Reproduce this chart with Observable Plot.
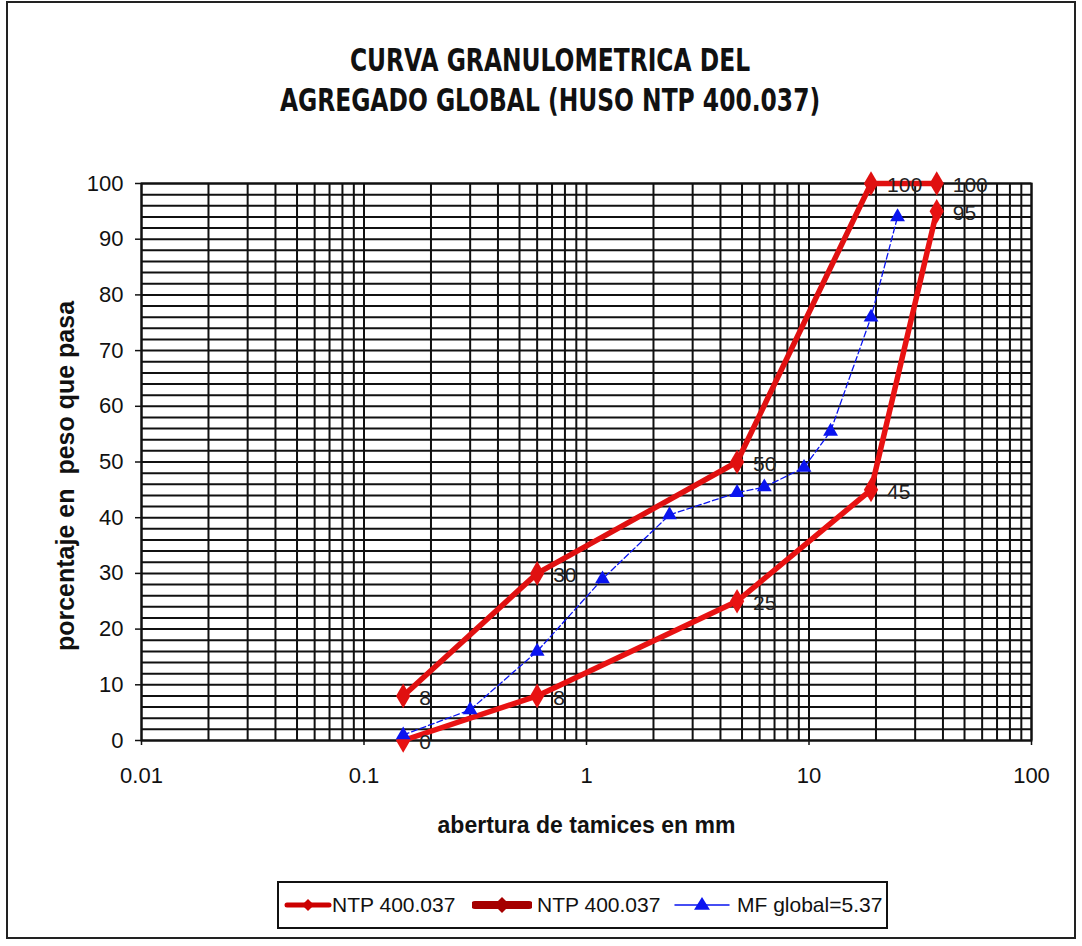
<!DOCTYPE html>
<html><head><meta charset="utf-8">
<script src="https://cdn.jsdelivr.net/npm/d3@7"></script>
<script src="https://cdn.jsdelivr.net/npm/@observablehq/plot@0.6"></script>
<style>
body{margin:0;background:#fff;}
#wrap{position:relative;width:1082px;height:946px;overflow:hidden;background:#fff;font-family:"Liberation Sans",Arial,sans-serif;}
#border{position:absolute;left:6px;top:1px;width:1070px;height:938px;border:2px solid #222;box-sizing:border-box;}
#title{position:absolute;left:0;top:40px;width:1100px;text-align:center;font-family:"Liberation Sans Narrow","DejaVu Sans Condensed",sans-serif;font-weight:bold;font-size:26px;line-height:40px;color:#111;}
#title div{transform:scale(1,1.25);}
#chart{position:absolute;left:0;top:130px;}
#legend{position:absolute;left:277px;top:881px;width:611px;height:48px;border:2px solid #111;box-sizing:border-box;font-size:21px;color:#111;}
#legend .sw{position:absolute;top:10px;}
#legend .tx{position:absolute;top:10px;line-height:24px;white-space:nowrap;}
#legend svg{display:block;}
</style>
</head><body>
<div id="wrap">
  <div id="border"></div>
  <div id="title"><div>CURVA GRANULOMETRICA DEL</div><div>AGREGADO GLOBAL (HUSO NTP 400.037)</div></div>
  <div id="chart"></div>
  <div id="legend"></div>
</div>
<script>
// ---- data ----
const sieveSizes = [0.15, 0.6, 4.75, 19, 37.5];           // mm
const lowerLimit = [0, 8, 25, 45, 95];                     // NTP 400.037 (lower)
const upperLimit = [8, 30, 50, 100, 100];                  // NTP 400.037 (upper)
const mfSizes   = [0.15, 0.3, 0.6, 1.18, 2.36, 4.75, 6.3, 9.5, 12.5, 19, 25];
const mfPassing = [1, 5.5, 16, 29, 40.5, 44.5, 45.5, 49, 55.5, 76, 94];
const seriesNames = ["NTP 400.037", "NTP 400.037", "MF global=5.37"];
const xTicks = [0.01, 0.1, 1, 10, 100];
const xTickLabels = ["0.01", "0.1", "1", "10", "100"];
const yTicks = [0, 10, 20, 30, 40, 50, 60, 70, 80, 90, 100];
const xGrid = [0.01,0.02,0.03,0.04,0.05,0.06,0.07,0.08,0.09,
               0.1,0.2,0.3,0.4,0.5,0.6,0.7,0.8,0.9,
               1,2,3,4,5,6,7,8,9,
               10,20,30,40,50,60,70,80,90,100];
const yGrid = [0,2,4,6,8,10,12,14,16,18,20,22,24,26,28,30,32,34,36,38,40,42,44,46,48,50,
               52,54,56,58,60,62,64,66,68,70,72,74,76,78,80,82,84,86,88,90,92,94,96,98,100];
const xTitle = "abertura de tamices en mm";
const yTitle = "porcentaje en  peso que pasa";

// ---- tables ----
const lower = sieveSizes.map((s, i) => ({x: s, y: lowerLimit[i]}));
const upper = sieveSizes.map((s, i) => ({x: s, y: upperLimit[i]}));
const mf = mfSizes.map((s, i) => ({x: s, y: mfPassing[i]}));

const red1 = "#e81212", red2 = "#e01010", blue = "#0a14f0";

const chart = Plot.plot({
  width: 1082, height: 730,
  marginLeft: 141, marginRight: 51, marginTop: 53, marginBottom: 120,
  style: {fontFamily: '"Liberation Sans", Arial, sans-serif', fontSize: "22px", color: "#111", background: "transparent"},
  x: {type: "log", domain: [0.01, 100]},
  y: {domain: [0, 100]},
  marks: [
    Plot.gridX(xGrid, {stroke: "#111", strokeOpacity: 1, strokeWidth: 2}),
    Plot.gridY(yGrid, {stroke: "#111", strokeOpacity: 1, strokeWidth: 2}),
    Plot.frame({stroke: "#111", strokeWidth: 2}),
    Plot.axisX(xTicks, {tickSize: 5, tickPadding: 22, tickFormat: d => xTickLabels[xTicks.indexOf(d)], label: null, strokeWidth: 1.5}),
    Plot.axisY(yTicks, {tickSize: 6, tickPadding: 12, label: null, strokeWidth: 1.5}),
    Plot.line(mf, {x: "x", y: "y", stroke: blue, strokeWidth: 1.3, strokeDasharray: "6,3"}),
    Plot.line(lower, {x: "x", y: "y", stroke: red1, strokeWidth: 5.5, strokeLinejoin: "round"}),
    Plot.line(upper, {x: "x", y: "y", stroke: red2, strokeWidth: 5.5, strokeLinejoin: "round"}),
    Plot.dot(lower, {x: "x", y: "y", symbol: "diamond", r: 7.5, fill: red1}),
    Plot.dot(upper, {x: "x", y: "y", symbol: "diamond", r: 7.5, fill: red2}),
    Plot.dot(mf, {x: "x", y: "y", symbol: "triangle", r: 5.5, fill: blue}),
    Plot.text(lower, {x: "x", y: "y", text: d => String(d.y), dx: 16, dy: 2, textAnchor: "start", fill: "#222", fontSize: 21}),
    Plot.text(upper, {x: "x", y: "y", text: d => String(d.y), dx: 16, dy: 2, textAnchor: "start", fill: "#222", fontSize: 21}),
    Plot.text([xTitle], {frameAnchor: "bottom", dy: 92, text: d => d, fontWeight: "bold", fontSize: 23, fill: "#111"}),
    Plot.text([yTitle], {frameAnchor: "left", textAnchor: "middle", dx: -76, dy: 14, rotate: -90, text: d => d, fontWeight: "bold", fontSize: 25, fill: "#111"})
  ]
});
document.getElementById("chart").appendChild(chart);

// ---- legend ----
const legend = document.getElementById("legend");
const legendStyles = [
  {color: "#cc0000", width: 5, marker: "diamond", size: 6, sw: 5, tx: 53, w: 48},
  {color: "#a50000", width: 8, marker: "diamond", size: 8, sw: 193, tx: 258, w: 60},
  {color: "#0a14f0", width: 1.5, marker: "triangle", size: 8, sw: 393, tx: 458, w: 60}
];
seriesNames.forEach((name, i) => {
  const st = legendStyles[i];
  const w = st.w;
  const s = st.size;
  const marker = st.marker === "diamond"
    ? `<path d="M${w/2},${12-s} L${w/2+s},12 L${w/2},${12+s} L${w/2-s},12 Z" fill="${st.color}"/>`
    : `<path d="M${w/2},${12-s} L${w/2+s},${12+s*0.6} L${w/2-s},${12+s*0.6} Z" fill="${st.color}"/>`;
  const sw = document.createElement("div");
  sw.className = "sw";
  sw.style.left = st.sw + "px";
  sw.innerHTML = `<svg width="${w}" height="24"><line x1="3" x2="${w-3}" y1="12" y2="12" stroke="${st.color}" stroke-width="${st.width}" stroke-linecap="round"/>${marker}</svg>`;
  const tx = document.createElement("div");
  tx.className = "tx";
  tx.style.left = st.tx + "px";
  tx.textContent = name;
  legend.appendChild(sw);
  legend.appendChild(tx);
});
</script>
</body></html>
